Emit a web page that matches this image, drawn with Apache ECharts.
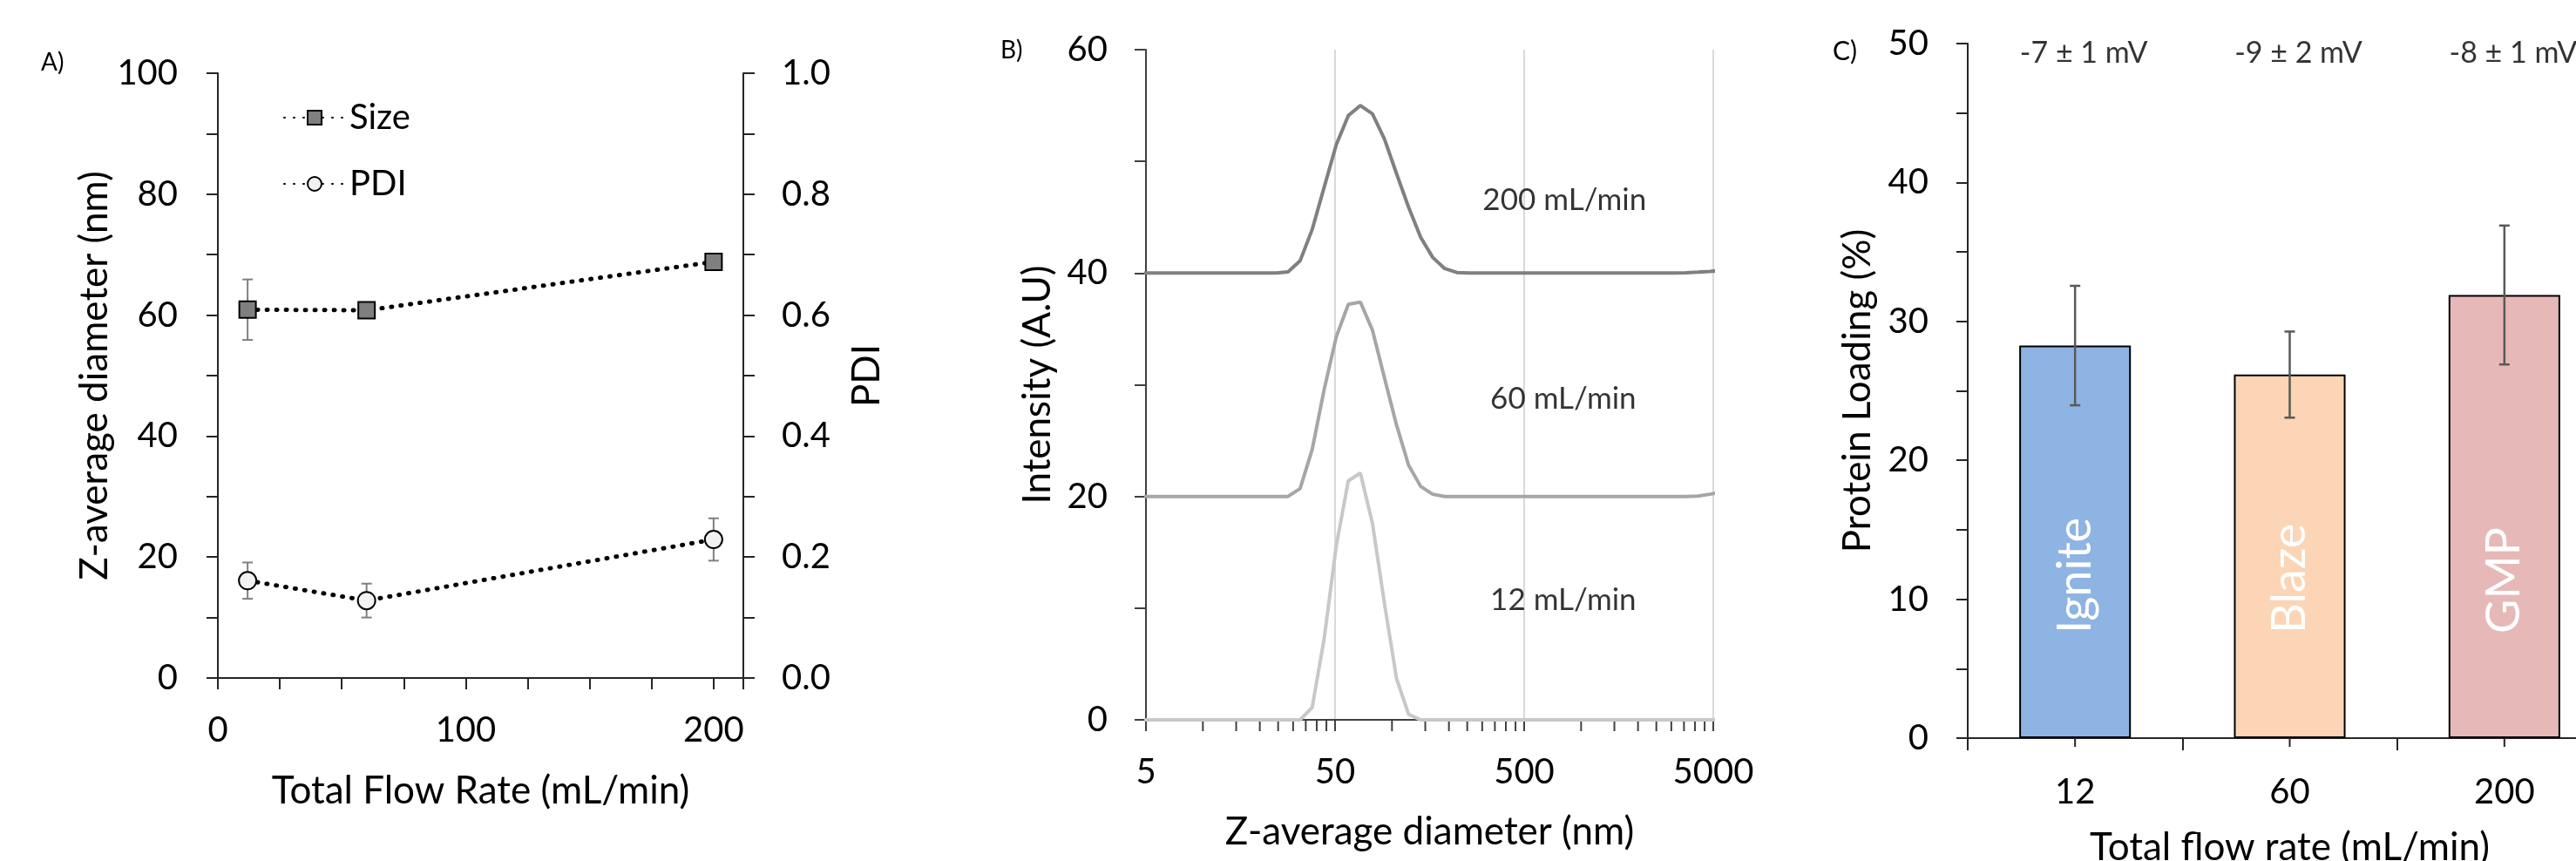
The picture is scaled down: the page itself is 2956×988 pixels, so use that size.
<!DOCTYPE html>
<html lang="en">
<head>
  <meta charset="UTF-8">
  <title>Size, DLS and loading</title>
  <script src="https://cdn.jsdelivr.net/npm/echarts@6.0.0/dist/echarts.min.js"></script>
  <style>
    body { margin: 0; background: #fff; }
    #main { width: 2956px; height: 988px; }
  </style>
</head>
<body>
<div id="main"></div>
<script type="text/javascript">
  // ---- panel A: size / PDI vs flow rate
  var flowRates = [12, 60, 200];
  var sizeMean = [60.9, 60.8, 68.8];
  var sizeErr = [5.0, 0, 0];
  var pdiMean = [0.161, 0.128, 0.229];
  var pdiErr = [0.030, 0.028, 0.035];

  // ---- panel B: DLS intensity distributions (offset by 20 each)
  var dlsSizes = [4.849, 18.17, 21.04, 24.36, 28.21, 32.67, 37.84, 43.82, 50.75, 58.77, 68.06, 78.82, 91.28,
    105.7, 122.4, 141.8, 164.2, 190.1, 220.2, 255.0, 295.3, 3091, 3580, 4145, 4801, 5560];
  var int200 = [0, 0, 0, 0, 0.1, 1.1, 3.9, 7.7, 11.5, 14.1, 15.0, 14.25, 12.0, 8.9, 5.9, 3.2, 1.4, 0.4, 0.05, 0, 0, 0, 0.02, 0.08, 0.15, 0.25];
  var int60 = [0, 0, 0, 0, 0, 0.7, 4.2, 9.6, 14.3, 17.2, 17.4, 14.9, 10.6, 6.4, 2.8, 0.9, 0.2, 0, 0, 0, 0, 0, 0, 0.03, 0.2, 0.4];
  var int12 = [0, 0, 0, 0, 0, 0, 1.1, 7.3, 15.6, 21.4, 22.1, 17.6, 10.4, 3.7, 0.5, 0, 0, 0, 0, 0, 0, 0, 0, 0, 0, 0];
  var dlsOffsets = [40, 20, 0];
  var dlsNames = ['200 mL/min', '60 mL/min', '12 mL/min'];
  var dlsLabelX = [817, 805, 805];
  var dlsLabelY = [46.5, 28.7, 10.7];
  var dlsMin = 5;
  var dlsMinorTicks = [10, 15, 20, 25, 30, 35, 40, 45, 100, 150, 200, 250, 300, 350, 400, 450,
    1000, 1500, 2000, 2500, 3000, 3500, 4000, 4500];

  // ---- panel C: protein loading
  var loadCats = ['12', '60', '200'];
  var loadNames = ['Ignite', 'Blaze', 'GMP'];
  var loadMean = [28.26, 26.17, 31.9];
  var loadErr = [4.3, 3.1, 5.0];
  var zeta = ['-7 ± 1 mV', '-9 ± 2 mV', '-8 ± 1 mV'];

  var FONT = 'Lato';
  var barColors = ['#8eb4e3', '#fbd5b5', '#e6b9b8'];
  var dlsColors = ['#808080', '#a6a6a6', '#c8c8c8'];

  function lg(s) { return Math.log10(s / dlsMin); }

  function errorBar(cap, color, width) {
    return function (params, api) {
      var x = api.value(0);
      var p1 = api.coord([x, api.value(1)]);
      var p2 = api.coord([x, api.value(2)]);
      var st = { stroke: color, lineWidth: width };
      return {
        type: 'group', children: [
          { type: 'line', shape: { x1: p1[0], y1: p1[1], x2: p2[0], y2: p2[1] }, style: st },
          { type: 'line', shape: { x1: p1[0] - cap, y1: p1[1], x2: p1[0] + cap, y2: p1[1] }, style: st },
          { type: 'line', shape: { x1: p2[0] - cap, y1: p2[1], x2: p2[0] + cap, y2: p2[1] }, style: st }
        ]
      };
    };
  }

  function tickMark(len, color) {
    return function (params, api) {
      var p = api.coord([api.value(0), 0]);
      return { type: 'line', shape: { x1: p[0], y1: p[1], x2: p[0], y2: p[1] + len }, style: { stroke: color, lineWidth: 2 } };
    };
  }

  function axisBase(color) {
    return {
      axisLine: { show: true, lineStyle: { color: color, width: 2 } },
      axisTick: { show: true, inside: false, length: 13, lineStyle: { color: color, width: 2 } },
      splitLine: { show: false },
      nameLocation: 'middle',
      nameTextStyle: { fontFamily: FONT, fontSize: 44, color: '#000' }
    };
  }
  function lbl(margin, fmt) {
    return { fontFamily: FONT, fontSize: 40, color: '#000', margin: margin, formatter: fmt };
  }

  var chartDom = document.getElementById('main');
  var myChart = echarts.init(chartDom);

  var dlsSeries = [int200, int60, int12].map(function (vals, k) {
    return {
      type: 'line', xAxisIndex: 1, yAxisIndex: 2, z: 5 - k,
      symbol: 'none', smooth: false, clip: true,
      lineStyle: { color: dlsColors[k], width: 4 },
      data: dlsSizes.map(function (s, i) { return [lg(s), vals[i] + dlsOffsets[k]]; })
    };
  });

  var option = {
    animation: false,
    backgroundColor: '#fff',
    textStyle: { fontFamily: FONT },
    grid: [
      { left: 250, top: 84, width: 603, height: 694, outerBoundsMode: 'none' },
      { left: 1315, top: 57, width: 651, height: 769, outerBoundsMode: 'none' },
      { left: 2258, top: 50, width: 739, height: 797, outerBoundsMode: 'none' }
    ],
    legend: {
      data: ['Size', 'PDI'],
      left: 325, top: 115, orient: 'vertical',
      itemWidth: 70, itemHeight: 20, itemGap: 36, padding: 0,
      textStyle: { fontFamily: FONT, fontSize: 40, color: '#000' }
    },
    xAxis: [
      Object.assign(axisBase('#262626'), {
        type: 'value', gridIndex: 0, min: 0, max: 212, interval: 25,
        name: 'Total Flow Rate (mL/min)', nameGap: 108,
        axisLabel: lbl(40, function (v) { return v % 100 === 0 ? v : ''; })
      }),
      Object.assign(axisBase('#404040'), {
        type: 'value', gridIndex: 1, min: 0, max: 3, interval: 1,
        name: 'Z-average diameter (nm)', nameGap: 107,
        axisLabel: lbl(40, function (v) { return Math.round(dlsMin * Math.pow(10, v)); }),
        splitLine: { show: true, lineStyle: { color: '#d9d9d9', width: 2 } }
      }),
      Object.assign(axisBase('#262626'), {
        type: 'category', gridIndex: 2, data: loadCats,
        name: 'Total flow rate (mL/min)', nameGap: 104,
        axisTick: { show: true, length: 14, lineStyle: { color: '#262626', width: 2 } },
        axisLabel: lbl(42)
      })
    ],
    yAxis: [
      Object.assign(axisBase('#262626'), {
        type: 'value', gridIndex: 0, min: 0, max: 100, interval: 10,
        name: 'Z-average diameter (nm)', nameGap: 110, nameRotate: 90,
        axisLabel: lbl(46, function (v) { return v % 20 === 0 ? v : ''; })
      }),
      Object.assign(axisBase('#262626'), {
        type: 'value', gridIndex: 0, position: 'right', min: 0, max: 1, interval: 0.1,
        name: 'PDI', nameGap: 120, nameRotate: 90,
        axisLabel: lbl(44, function (v) { return Math.round(v * 10) % 2 === 0 ? v.toFixed(1) : ''; })
      }),
      Object.assign(axisBase('#404040'), {
        type: 'value', gridIndex: 1, min: 0, max: 60, interval: 10,
        name: 'Intensity (A.U)', nameGap: 102, nameRotate: 90,
        axisLabel: lbl(44, function (v) { return v % 20 === 0 ? v : ''; })
      }),
      Object.assign(axisBase('#262626'), {
        type: 'value', gridIndex: 2, min: 0, max: 50, interval: 5,
        name: 'Protein Loading (%)', nameGap: 104, nameRotate: 90,
        axisLabel: lbl(45, function (v) { return v % 10 === 0 ? v : ''; })
      })
    ],
    graphic: [
      { type: 'text', left: 47, top: 58, style: { text: 'A)', font: '28px ' + FONT, fill: '#000' } },
      { type: 'text', left: 1148, top: 44, style: { text: 'B)', font: '28px ' + FONT, fill: '#000' } },
      { type: 'text', left: 2103, top: 44, style: { text: 'C)', font: '30px ' + FONT, fill: '#000' } }
    ],
    series: [
      // panel A
      {
        type: 'custom', xAxisIndex: 0, yAxisIndex: 0, z: 1, clip: false,
        renderItem: errorBar(6, '#7f7f7f', 2),
        data: flowRates.map(function (f, i) { return [f, sizeMean[i] - sizeErr[i], sizeMean[i] + sizeErr[i]]; })
      },
      {
        type: 'custom', xAxisIndex: 0, yAxisIndex: 1, z: 1, clip: false,
        renderItem: errorBar(6, '#7f7f7f', 2),
        data: flowRates.map(function (f, i) { return [f, pdiMean[i] - pdiErr[i], pdiMean[i] + pdiErr[i]]; })
      },
      {
        name: 'Size', type: 'line', xAxisIndex: 0, yAxisIndex: 0, z: 3,
        symbol: 'rect', symbolSize: 19,
        itemStyle: { color: '#7f7f7f', borderColor: '#000', borderWidth: 2 },
        lineStyle: { color: '#000', width: 5, type: [1, 10], cap: 'round' },
        data: flowRates.map(function (f, i) { return [f, sizeMean[i]]; })
      },
      {
        name: 'PDI', type: 'line', xAxisIndex: 0, yAxisIndex: 1, z: 3,
        symbol: 'circle', symbolSize: 20,
        itemStyle: { color: '#f2f2f2', borderColor: '#000', borderWidth: 2 },
        lineStyle: { color: '#000', width: 5, type: [1, 10], cap: 'round' },
        data: flowRates.map(function (f, i) { return [f, pdiMean[i]]; })
      }
    ].concat(dlsSeries).concat([
      // panel B minor ticks and curve labels
      {
        type: 'custom', xAxisIndex: 1, yAxisIndex: 2, clip: false, z: 1,
        renderItem: tickMark(13, '#404040'),
        data: dlsMinorTicks.map(function (m) { return [lg(m), 0]; })
      },
      {
        type: 'scatter', xAxisIndex: 1, yAxisIndex: 2, symbolSize: 0, silent: true,
        label: {
          show: true, position: 'inside', fontFamily: FONT, fontSize: 35, color: '#000',
          formatter: function (p) { return dlsNames[p.dataIndex]; }
        },
        data: dlsLabelX.map(function (x, i) { return [lg(x), dlsLabelY[i]]; })
      },
      // panel C
      {
        type: 'bar', xAxisIndex: 2, yAxisIndex: 3, barWidth: '52%', z: 2,
        itemStyle: { borderColor: '#000', borderWidth: 2 },
        label: {
          show: true, position: 'insideBottom', distance: 120, rotate: 90,
          align: 'left', verticalAlign: 'middle',
          fontFamily: FONT, fontSize: 54, color: '#fff',
          formatter: function (p) { return loadNames[p.dataIndex]; }
        },
        data: loadMean.map(function (v, i) { return { value: v, itemStyle: { color: barColors[i] } }; })
      },
      {
        type: 'custom', xAxisIndex: 2, yAxisIndex: 3, z: 4, clip: false,
        renderItem: errorBar(6, '#595959', 2.5),
        data: loadMean.map(function (v, i) { return [i, v - loadErr[i], v + loadErr[i]]; })
      },
      {
        type: 'custom', xAxisIndex: 2, yAxisIndex: 3, clip: false, z: 1,
        renderItem: tickMark(10, '#262626'),
        data: loadCats.map(function (c, i) { return [i, 0]; })
      },
      {
        type: 'scatter', xAxisIndex: 2, yAxisIndex: 3, symbolSize: 0, silent: true,
        label: {
          show: true, position: 'inside', offset: [10, 0], fontFamily: FONT, fontSize: 34, color: '#000',
          formatter: function (p) { return zeta[p.dataIndex]; }
        },
        data: zeta.map(function (z, i) { return [i, 49.3]; })
      }
    ])
  };

  option && myChart.setOption(option);
</script>
</body>
</html>
